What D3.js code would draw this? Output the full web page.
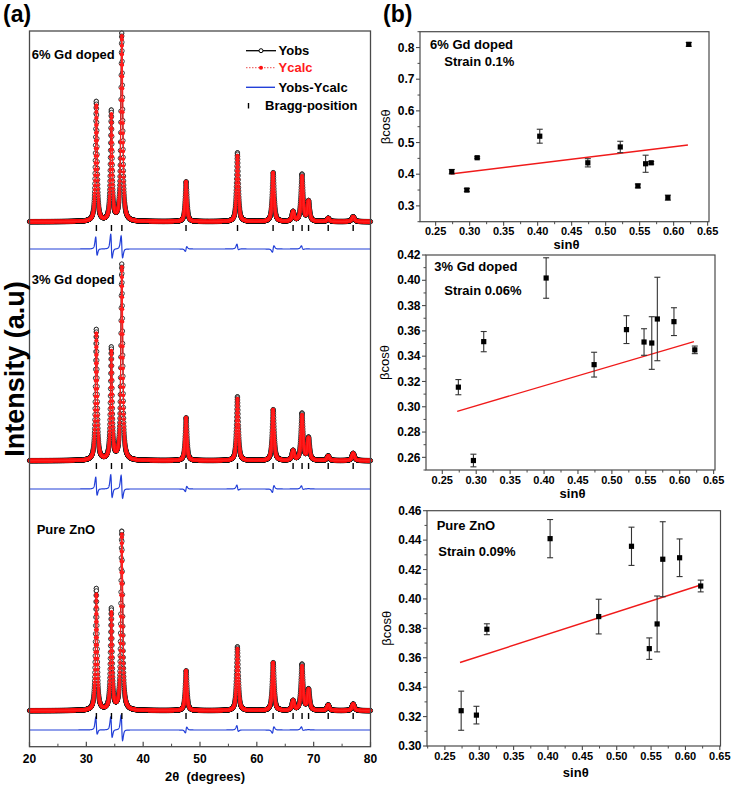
<!DOCTYPE html>
<html><head><meta charset="utf-8">
<script src="https://cdn.jsdelivr.net/npm/d3@7"></script>
<style>
body{margin:0;background:#fff}
svg{display:block}
text{font-family:Arial,"Liberation Sans",Helvetica,sans-serif}
</style>
</head><body>
<svg id="c" width="732" height="786"></svg>
<script>
// ---------------- DATA ----------------
// Panel (a): XRD Rietveld refinement (ZnO reflections)
const peakPos  = [31.77, 34.42, 36.25, 47.54, 56.60, 62.86, 66.38, 67.96, 69.10, 72.56, 76.95];
const peakFwhm = [0.38, 0.38, 0.40, 0.40, 0.42, 0.44, 0.46, 0.46, 0.46, 0.50, 0.54];
const sampleNames = ["6% Gd doped", "3% Gd doped", "Pure ZnO"];
// observed peak intensities (counts)
const obs6  = [6000, 5500, 9400, 2000, 3450, 2450, 480, 2350, 1000, 170, 250];
const obs3  = [6550, 5600, 9800, 2150, 3200, 2550, 480, 2350, 1120, 235, 370];
const obs0  = [6100, 5050, 8950, 2000, 3200, 2400, 480, 2300, 1040, 285, 335];
// calculated peak intensities (counts)
const calc6 = [5800, 5300, 9250, 2000, 3300, 2450, 480, 2250, 1000, 170, 250];
const calc3 = [6350, 5400, 9650, 2150, 3100, 2550, 480, 2250, 1100, 235, 370];
const calc0 = [5800, 4850, 8800, 2000, 3100, 2400, 480, 2200, 1020, 285, 335];
// small position misfit of observed peaks (deg)
const shift6 = [-0.022, -0.032, -0.018, 0.018, -0.012, 0.022, 0, -0.012, 0, 0, 0];
const shift3 = [-0.020, -0.030, -0.018, 0.018, -0.012, 0.022, 0, -0.012, 0, 0, 0];
const shift0 = [-0.020, -0.030, -0.022, 0.022, -0.014, 0.022, 0, -0.012, 0, 0, 0];
// stacking offsets (counts)
const baseOffsets  = [26265, 14315, 1815];
const diffOffsets  = [24900, 12900, 850];
const braggOffsets = [25950, 14050, 1550];
const twoThetaTicks = [20, 30, 40, 50, 60, 70, 80];

// Panel (b): Williamson-Hall plots
const sinTheta = [0.2737, 0.2959, 0.3111, 0.4031, 0.4738, 0.5215, 0.5474, 0.5588, 0.5670, 0.5915, 0.6222];
const bcos6 = [0.408, 0.350, 0.452, 0.520, 0.436, 0.486, 0.363, 0.433, 0.436, 0.326, 0.810];
const err6  = [0.007, 0.005, 0.003, 0.022, 0.013, 0.018, 0.006, 0.027, 0.004, 0.008, 0.006];
const bcos3 = [0.3155, 0.2575, 0.3515, 0.4018, 0.3333, 0.3610, 0.3512, 0.3504, 0.3694, 0.3673, 0.3450];
const err3  = [0.006, 0.005, 0.008, 0.016, 0.0098, 0.011, 0.0105, 0.0208, 0.033, 0.011, 0.003];
const bcos0 = [0.324, 0.321, 0.3794, 0.441, 0.388, 0.4358, 0.3662, 0.383, 0.427, 0.428, 0.4088];
const err0  = [0.0133, 0.006, 0.0037, 0.013, 0.0118, 0.013, 0.0073, 0.019, 0.0255, 0.0128, 0.004];
const fitSlope     = [0.263, 0.158, 0.1506];
const fitIntercept = [0.329, 0.2534, 0.3158];
const fitRange = [0.272, 0.621];
const strainLabels = ["Strain 0.1%", "Strain 0.06%", "Strain 0.09%"];
const yTicks6 = [0.3, 0.4, 0.5, 0.6, 0.7, 0.8];
const yTicks3 = [0.26, 0.28, 0.30, 0.32, 0.34, 0.36, 0.38, 0.40, 0.42];
const yTicks0 = [0.30, 0.32, 0.34, 0.36, 0.38, 0.40, 0.42, 0.44, 0.46];
const xTicksB = [0.25, 0.30, 0.35, 0.40, 0.45, 0.50, 0.55, 0.60, 0.65];

// ---------------- DRAW ----------------
const svg = d3.select("#c");
const FR = "#4a4a4a";

// ===== Panel (a) =====
const A = {L: 29.5, R: 370.5, T: 31, B: 746.7};
const xA = d3.scaleLinear().domain([20, 80]).range([A.L, A.R]);
const yA = d3.scaleLinear().domain([0, 35800]).range([747, 31]);
const grid = d3.range(20, 80.0001, 0.02);
const eta = 0.72;
function pv(x, p, w) {
  const d = (x - p) / w;
  return eta / (1 + 4 * d * d) + (1 - eta) * Math.exp(-4 * Math.LN2 * d * d);
}
function profile(x, H, S) {
  let s = 0;
  for (let j = 0; j < peakPos.length; j++) s += H[j] * pv(x, peakPos[j] + S[j], peakFwhm[j]);
  return s;
}
const obsAll = [obs6, obs3, obs0], calcAll = [calc6, calc3, calc0], shAll = [shift6, shift3, shift0];
const zero = peakPos.map(() => 0);

const gA = svg.append("g");
sampleNames.forEach((name, i) => {
  const b = baseOffsets[i];
  const data = grid.map(x => {
    const o = profile(x, obsAll[i], shAll[i]);
    const c = profile(x, calcAll[i], zero);
    return {x, o: b + o, c: b + c, d: diffOffsets[i] + (o - c)};
  });
  const lineO = d3.line().x(d => xA(d.x)).y(d => yA(d.o));
  const lineC = d3.line().x(d => xA(d.x)).y(d => yA(d.c));
  const lineD = d3.line().x(d => xA(d.x)).y(d => yA(d.d));
  gA.append("path").attr("d", lineO(data)).attr("fill", "none").attr("stroke", "#000").attr("stroke-width", 1);
  gA.append("g").selectAll("circle").data(data).join("circle")
    .attr("cx", d => xA(d.x)).attr("cy", d => yA(d.o)).attr("r", 2.1)
    .attr("fill", "#fff").attr("stroke", "#111").attr("stroke-width", 0.8);
  gA.append("g").selectAll("circle").data(data).join("circle")
    .attr("cx", d => xA(d.x)).attr("cy", d => yA(d.c)).attr("r", 1.8)
    .attr("fill", "#ff1010").attr("stroke", "none");
  gA.append("path").attr("d", lineC(data)).attr("fill", "none").attr("stroke", "#ff2020").attr("stroke-width", 1.2);
  gA.append("path").attr("d", lineD(data)).attr("fill", "none").attr("stroke", "#2340d8").attr("stroke-width", 1.2);
  gA.append("g").selectAll("line").data(peakPos).join("line")
    .attr("x1", d => xA(d)).attr("x2", d => xA(d))
    .attr("y1", yA(braggOffsets[i]) - 3).attr("y2", yA(braggOffsets[i]) + 3)
    .attr("stroke", "#000").attr("stroke-width", 1.4);
});
// frame
svg.append("rect").attr("x", A.L).attr("y", A.T).attr("width", A.R - A.L).attr("height", A.B - A.T)
  .attr("fill", "none").attr("stroke", FR).attr("stroke-width", 1.3);
// x ticks (inward)
const xMinorA = d3.range(25, 80, 10);
svg.append("g").selectAll("line").data(twoThetaTicks).join("line")
  .attr("x1", d => xA(d)).attr("x2", d => xA(d)).attr("y1", A.B).attr("y2", A.B - 5)
  .attr("stroke", FR).attr("stroke-width", 1.2);
svg.append("g").selectAll("line").data(xMinorA).join("line")
  .attr("x1", d => xA(d)).attr("x2", d => xA(d)).attr("y1", A.B).attr("y2", A.B - 3)
  .attr("stroke", FR).attr("stroke-width", 1);
svg.append("g").selectAll("text").data(twoThetaTicks).join("text")
  .attr("x", d => xA(d)).attr("y", 762.5).attr("text-anchor", "middle")
  .attr("font-size", 12).attr("font-weight", "bold").text(d => d);
svg.append("text").attr("x", 205).attr("y", 781).attr("text-anchor", "middle")
  .attr("font-size", 13).attr("font-weight", "bold").attr("xml:space", "preserve").text("2\u03b8  (degrees)");
svg.append("text").attr("transform", "translate(24,369) rotate(-90)").attr("text-anchor", "middle")
  .attr("font-size", 27).attr("font-weight", "bold").text("Intensity (a.u)");
svg.append("text").attr("x", 3).attr("y", 21.5).attr("font-size", 23).attr("font-weight", "bold").text("(a)");
// sample labels
const labA = [[31.7, 59.3], [31.7, 284.3], [36.7, 534.3]];
sampleNames.forEach((n, i) => svg.append("text").attr("x", labA[i][0]).attr("y", labA[i][1])
  .attr("font-size", 13).attr("font-weight", "bold").text(n));
// legend
const lg = svg.append("g");
lg.append("line").attr("x1", 246).attr("x2", 276).attr("y1", 50.7).attr("y2", 50.7).attr("stroke", "#000").attr("stroke-width", 1.3);
lg.append("circle").attr("cx", 261).attr("cy", 50.7).attr("r", 2).attr("fill", "#fff").attr("stroke", "#000");
lg.append("line").attr("x1", 246).attr("x2", 276).attr("y1", 67.7).attr("y2", 67.7).attr("stroke", "#f07070").attr("stroke-width", 1.2).attr("stroke-dasharray", "1.5,1.5");
lg.append("circle").attr("cx", 261).attr("cy", 67.7).attr("r", 2).attr("fill", "#ff1010");
lg.append("line").attr("x1", 246).attr("x2", 275).attr("y1", 87.3).attr("y2", 87.3).attr("stroke", "#2340d8").attr("stroke-width", 1.4);
lg.append("line").attr("x1", 248.5).attr("x2", 248.5).attr("y1", 103).attr("y2", 108.5).attr("stroke", "#000").attr("stroke-width", 1.4);
const legT = [["Yobs", 278.5, 55.4, "#000"], ["Ycalc", 278.5, 72.4, "#ff1a1a"], ["Yobs-Ycalc", 278.5, 92, "#000"], ["Bragg-position", 265, 110.4, "#000"]];
legT.forEach(t => lg.append("text").attr("x", t[1]).attr("y", t[2]).attr("fill", t[3])
  .attr("font-size", 13).attr("font-weight", "bold").text(t[0]));

// ===== Panel (b) =====
svg.append("text").attr("x", 383).attr("y", 21.5).attr("font-size", 23).attr("font-weight", "bold").text("(b)");
const subs = [
  {L: 420, R: 709, T: 31.7, B: 221.7, xd: [0.227, 0.652], yd: [0.25, 0.85], yt: yTicks6, ymin: 0.05, fmt: d3.format(".1f"),
   v: bcos6, e: err6, lab: [430, 48.8], st: [444.3, 66], yl: 390, xt: 27.5, name: "6% Gd doped"},
  {L: 426, R: 715, T: 255, B: 470, xd: [0.226, 0.652], yd: [0.25, 0.42], yt: yTicks3, ymin: 0.01, fmt: d3.format(".2f"),
   v: bcos3, e: err3, lab: [434.3, 271], st: [444.3, 295.3], yl: 389, xt: 27.5, name: "3% Gd doped"},
  {L: 427, R: 720.5, T: 510.7, B: 746, xd: [0.224, 0.651], yd: [0.30, 0.46], yt: yTicks0, ymin: 0.01, fmt: d3.format(".2f"),
   v: bcos0, e: err0, lab: [436.7, 530.3], st: [438.3, 556], yl: 391, xt: 31, name: "Pure ZnO"}
];
subs.forEach((s, k) => {
  const g = svg.append("g");
  const x = d3.scaleLinear().domain(s.xd).range([s.L, s.R]);
  const y = d3.scaleLinear().domain(s.yd).range([s.B, s.T]);
  // frame
  g.append("rect").attr("x", s.L).attr("y", s.T).attr("width", s.R - s.L).attr("height", s.B - s.T)
    .attr("fill", "none").attr("stroke", FR).attr("stroke-width", 1.2);
  // x ticks outward
  const xMin = d3.range(0.225, 0.651, 0.05).filter(v => v > s.xd[0]);
  g.append("g").selectAll("line").data(xTicksB).join("line")
    .attr("x1", d => x(d)).attr("x2", d => x(d)).attr("y1", s.B).attr("y2", s.B + 4).attr("stroke", FR).attr("stroke-width", 1.1);
  g.append("g").selectAll("line").data(xMin).join("line")
    .attr("x1", d => x(d)).attr("x2", d => x(d)).attr("y1", s.B).attr("y2", s.B + 2.5).attr("stroke", FR).attr("stroke-width", 1);
  g.append("g").selectAll("text").data(xTicksB).join("text")
    .attr("x", d => x(d)).attr("y", s.B + 13.5).attr("text-anchor", "middle")
    .attr("font-size", 11).attr("font-weight", "bold").text(d => d.toFixed(2));
  // y ticks outward
  const yMin = d3.range(s.yd[0], s.yd[1] + 1e-9, s.ymin).filter(v => !s.yt.some(t => Math.abs(t - v) < 1e-6));
  g.append("g").selectAll("line").data(s.yt).join("line")
    .attr("x1", s.L).attr("x2", s.L - 4).attr("y1", d => y(d)).attr("y2", d => y(d)).attr("stroke", FR).attr("stroke-width", 1.1);
  g.append("g").selectAll("line").data(yMin).join("line")
    .attr("x1", s.L).attr("x2", s.L - 2.5).attr("y1", d => y(d)).attr("y2", d => y(d)).attr("stroke", FR).attr("stroke-width", 1);
  g.append("g").selectAll("text").data(s.yt).join("text")
    .attr("x", s.L - 5.5).attr("y", d => y(d) + 4.2).attr("text-anchor", "end")
    .attr("font-size", 12).attr("font-weight", "bold").text(d => s.fmt(d));
  // axis titles
  g.append("text").attr("x", (s.L + s.R) / 2 + 2).attr("y", s.B + s.xt).attr("text-anchor", "middle")
    .attr("font-size", 13).attr("font-weight", "bold").text("sin\u03b8");
  g.append("text").attr("transform", `translate(${s.yl},${(s.T + s.B) / 2}) rotate(-90)`).attr("text-anchor", "middle")
    .attr("font-size", 13).text("\u03b2cos\u03b8");
  // fit line
  g.append("line").attr("x1", x(fitRange[0])).attr("x2", x(fitRange[1]))
    .attr("y1", y(fitIntercept[k] + fitSlope[k] * fitRange[0])).attr("y2", y(fitIntercept[k] + fitSlope[k] * fitRange[1]))
    .attr("stroke", "#f01a1a").attr("stroke-width", 1.4);
  // error bars + points
  const pts = sinTheta.map((sx, i) => ({sx, v: s.v[i], e: s.e[i]}));
  const eb = g.append("g").attr("stroke", "#333").attr("stroke-width", 1.1);
  pts.forEach(p => {
    eb.append("line").attr("x1", x(p.sx)).attr("x2", x(p.sx)).attr("y1", y(p.v - p.e)).attr("y2", y(p.v + p.e));
    eb.append("line").attr("x1", x(p.sx) - 3).attr("x2", x(p.sx) + 3).attr("y1", y(p.v - p.e)).attr("y2", y(p.v - p.e));
    eb.append("line").attr("x1", x(p.sx) - 3).attr("x2", x(p.sx) + 3).attr("y1", y(p.v + p.e)).attr("y2", y(p.v + p.e));
  });
  g.append("g").selectAll("rect").data(pts).join("rect")
    .attr("x", d => x(d.sx) - 2.6).attr("y", d => y(d.v) - 2.6).attr("width", 5.2).attr("height", 5.2).attr("fill", "#000");
  // labels
  g.append("text").attr("x", s.lab[0]).attr("y", s.lab[1]).attr("font-size", 13).attr("font-weight", "bold").text(s.name);
  g.append("text").attr("x", s.st[0]).attr("y", s.st[1]).attr("font-size", 13).attr("font-weight", "bold").text(strainLabels[k]);
});
</script>
</body></html>
